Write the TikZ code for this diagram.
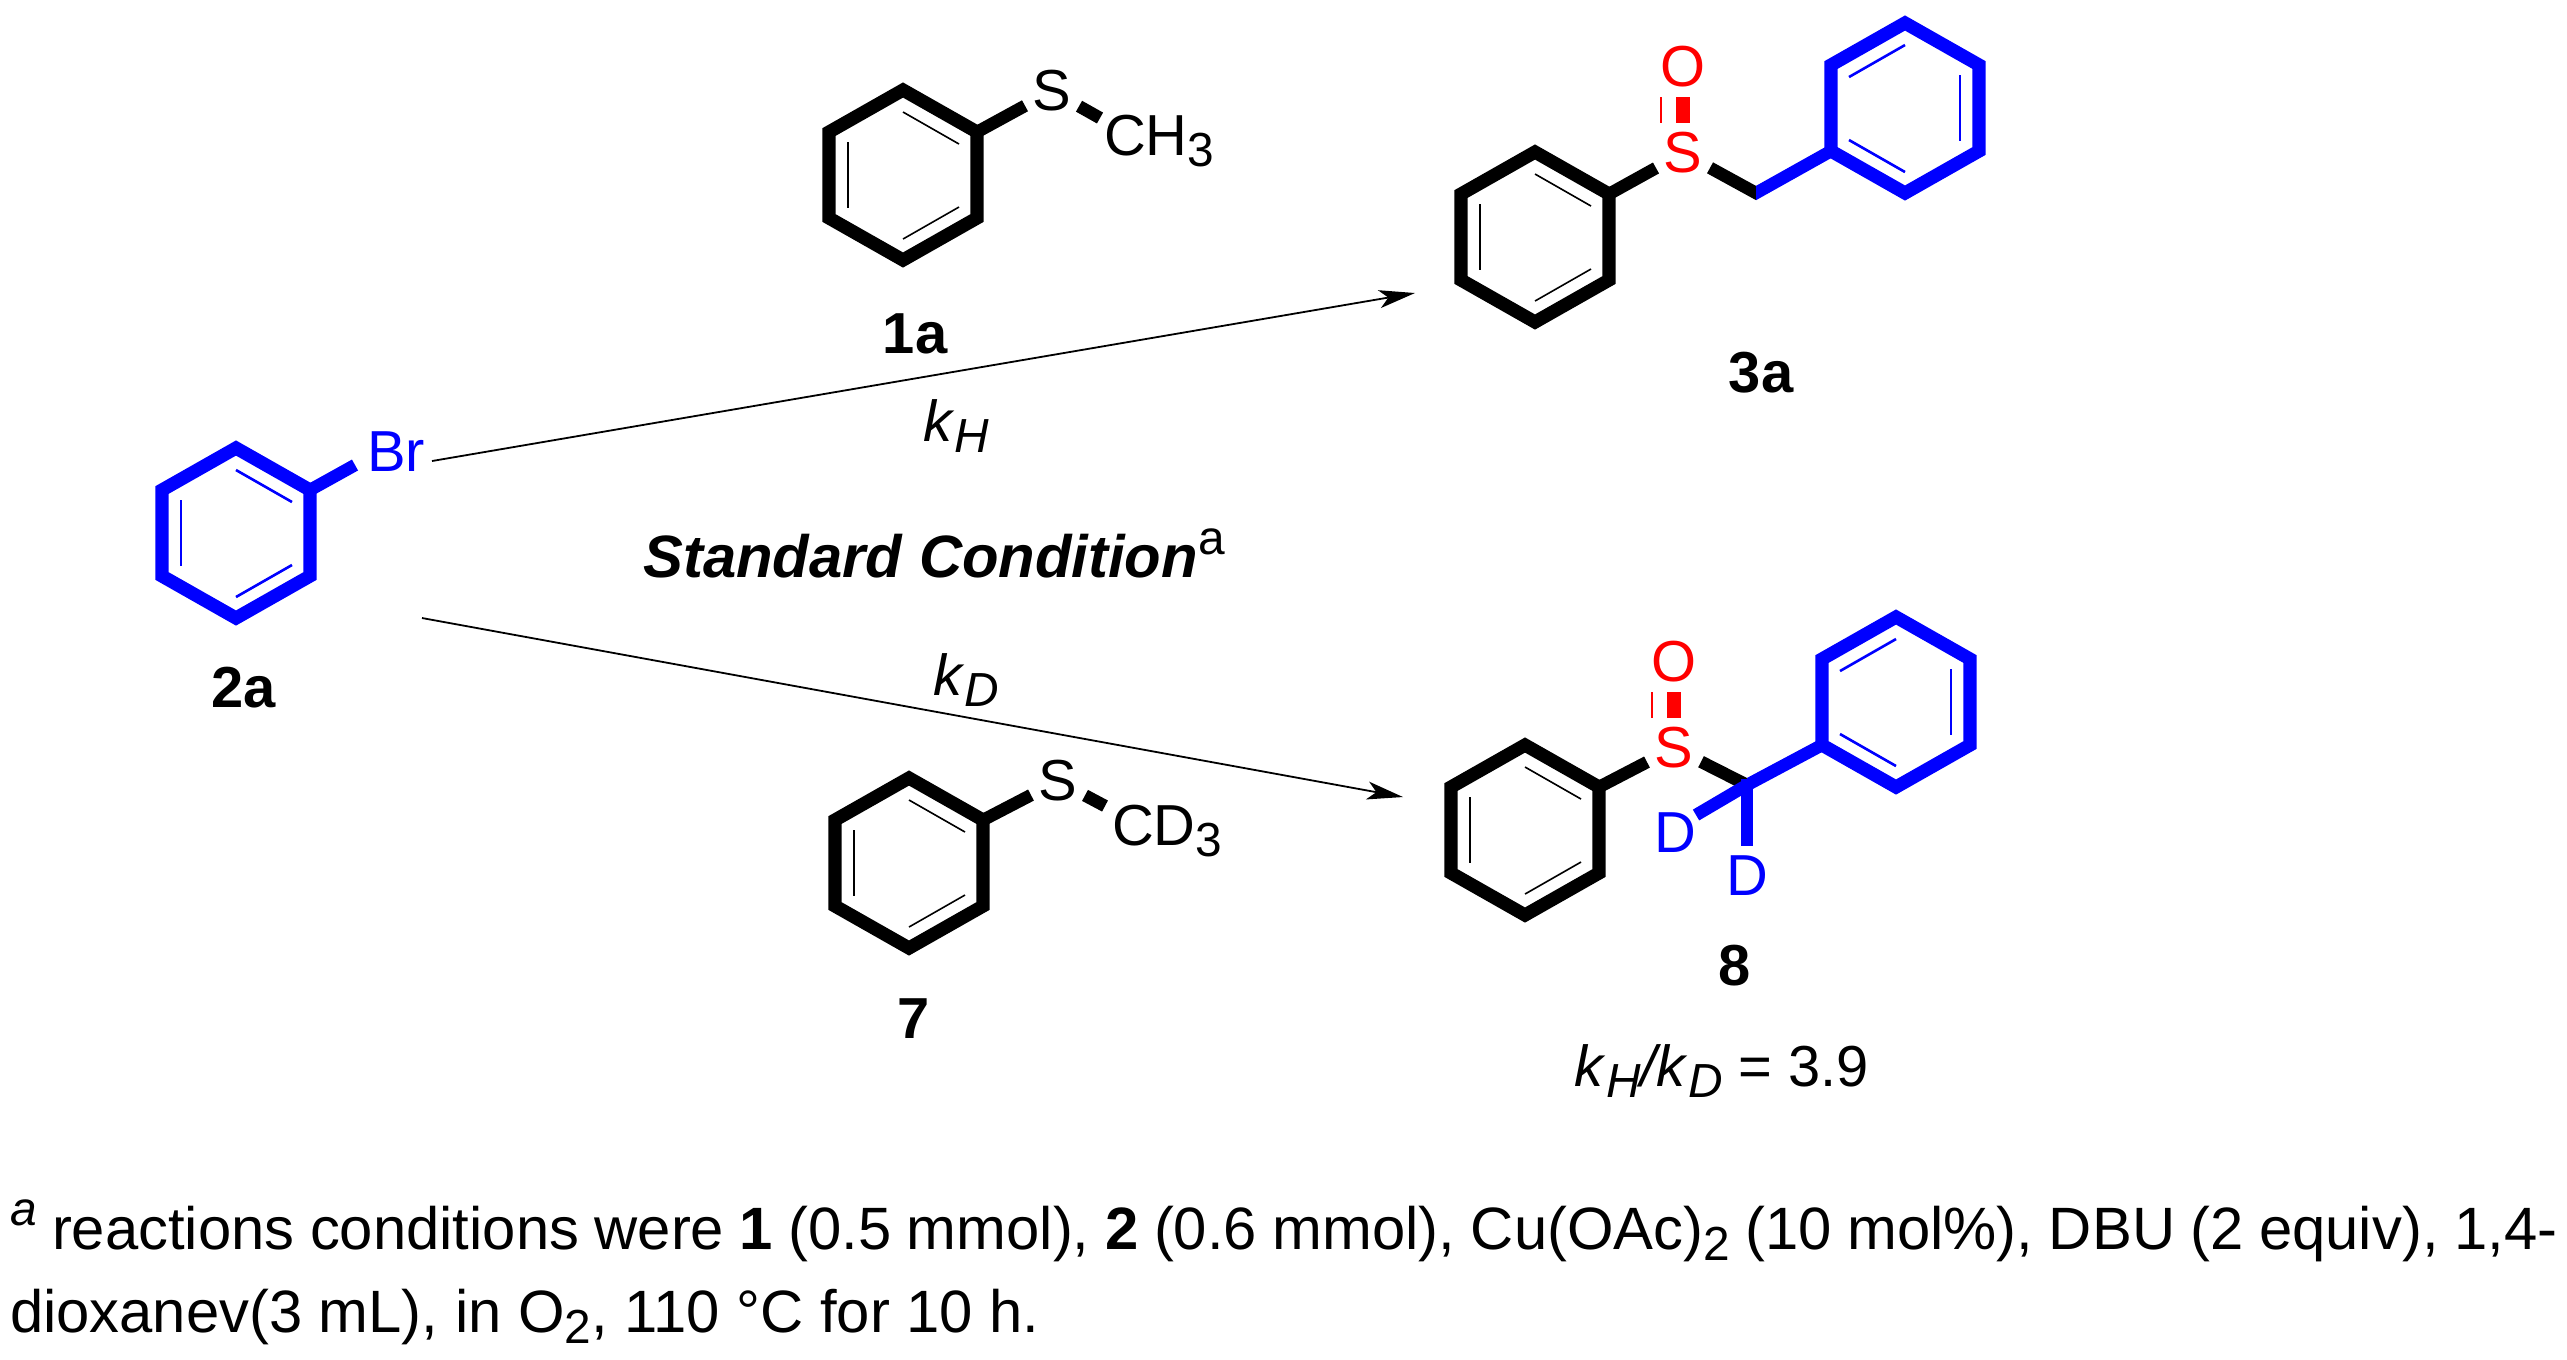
\documentclass[tikz,border=0pt]{standalone}
\usepackage{fontspec}
\setmainfont{Liberation Sans}
\usetikzlibrary{arrows.meta}
\definecolor{pureblue}{RGB}{0,0,255}
\definecolor{purered}{RGB}{255,0,0}
\newcommand\labfont{\fontsize{16.45}{19}\selectfont}
\newcommand\condfont{\fontsize{17}{20}\selectfont}
\newcommand\subfont{\fontsize{13.6}{16}\selectfont}
\newcommand\notefont{\fontsize{17}{20}\selectfont}
\newcommand\subdn[1]{\raisebox{-3.3pt}{\subfont #1}}
\newcommand\benz[5]{%
  \begin{scope}[shift={(#2,#3)},xscale=#5]
    \coordinate (#1-t) at (0,-85);
    \coordinate (#1-tr) at (74,-43);
    \coordinate (#1-br) at (74,43);
    \coordinate (#1-b) at (0,85);
    \coordinate (#1-bl) at (-74,43);
    \coordinate (#1-tl) at (-74,-43);
    \draw[#4ring] (#1-t) -- (#1-tr) -- (#1-br) -- (#1-b) -- (#1-bl) -- (#1-tl) -- cycle;
    \draw[#4inner] (-55,-33) -- (-55,33);
    \draw[#4inner] (0,-63) -- (56,-31);
    \draw[#4inner] (0,64) -- (56,32);
  \end{scope}}
\tikzset{
  ringline/.style={line width=0.132cm,line join=miter,miter limit=4},
  blkring/.style={ringline,draw=black},
  blring/.style={ringline,draw=pureblue},
  blkinner/.style={line width=0.016cm,draw=black},
  blinner/.style={line width=0.026cm,draw=pureblue},
  bondline/.style={line width=0.125cm},
  atomlab/.style={inner sep=0pt,outer sep=0pt,font=\labfont,minimum width=0.54cm,minimum height=0.60cm},
  txt/.style={inner sep=0pt,outer sep=0pt,anchor=base,font=\labfont},
  txtw/.style={inner sep=0pt,outer sep=0pt,anchor=base west,font=\labfont},
  rxn/.style={line width=0.018cm,-{Stealth[length=0.36cm,width=0.18cm,inset=0.09cm]}},
  soboldbar/.style={draw=purered,line width=0.135cm},
  sothin/.style={draw=purered,line width=0.022cm}
}
\begin{document}
\begin{tikzpicture}[x=0.01cm,y=-0.01cm]
\useasboundingbox (0,0) rectangle (2567,1359);
\fill[white] (0,0) rectangle (2567,1359);

% 2a
\benz{bb}{236}{533}{bl}{1}
\coordinate (brend) at (355,465);
\draw[bondline,draw=pureblue] (bb-tr) -- (brend);
\node[txtw,text=pureblue] (Br) at (367,471) {Br};
\node[txt,font=\labfont\bfseries] (l2a) at (244,707) {2a};

% 1a
\benz{ra}{903}{175}{blk}{1}
\node[atomlab] (Sa) at (1052,91) {S};
\coordinate (ma) at (1100,118);
\draw[bondline] (ra-tr) -- (Sa);
\draw[bondline] (Sa) -- (ma);
\node[txtw] (CHt) at (1104,155) {CH\subdn{3}};
\node[txt,font=\labfont\bfseries] (l1a) at (915,353) {1a};

% 7
\benz{rd}{909}{863}{blk}{1}
\node[atomlab] (Sd) at (1058,781) {S};
\coordinate (md) at (1105,806);
\draw[bondline] (rd-tr) -- (Sd);
\draw[bondline] (Sd) -- (md);
\node[txtw] (CDt) at (1112,845) {CD\subdn{3}};
\node[txt,font=\labfont\bfseries] (l7) at (914,1038) {7};

% 3a
\benz{pa}{1535}{237}{blk}{1}
\benz{qa}{1905}{108}{bl}{-1}
\node[atomlab,text=purered] (S3) at (1683,153) {S};
\node[atomlab,text=purered] (O3) at (1683,67) {O};
\coordinate (C3) at (1756,193);
\draw[bondline] (pa-tr) -- (S3);
\begin{scope}
  \clip (1690,120) rectangle (1756,230);
  \draw[bondline,line join=miter] (S3) -- (C3) -- (qa-br);
\end{scope}
\begin{scope}
  \clip (1756,120) rectangle (1840,230);
  \draw[bondline,draw=pureblue,line join=miter] (S3) -- (C3) -- (qa-br);
\end{scope}
\draw[soboldbar] (O3.south) -- (S3.north);
\draw[sothin] ([xshift=-0.22cm]O3.south) -- ([xshift=-0.22cm]S3.north);
\node[txt,font=\labfont\bfseries] (l3a) at (1761,392) {3a};

% 8
\benz{pd}{1525}{830}{blk}{1}
\benz{qd}{1896}{702}{bl}{-1}
\node[atomlab,text=purered] (S8) at (1674,748) {S};
\node[atomlab,text=purered] (O8) at (1674,662) {O};
\coordinate (C8) at (1747,785);
\coordinate (dl) at (1696,815);
\node[atomlab,text=pureblue] (D1) at (1675,833) {D};
\node[atomlab,text=pureblue] (D2) at (1747,876) {D};
\draw[bondline] (pd-tr) -- (S8);
\begin{scope}
  \clip (1680,720) rectangle (1747,820);
  \draw[bondline,line join=miter] (S8) -- (C8) -- (qd-br);
\end{scope}
\begin{scope}
  \clip (1747,720) rectangle (1830,820);
  \draw[bondline,draw=pureblue,line join=miter] (S8) -- (C8) -- (qd-br);
\end{scope}
\draw[bondline,draw=pureblue] (C8) -- (dl);
\draw[bondline,draw=pureblue] ([yshift=0.06cm]C8) -- (D2);
\draw[soboldbar] (O8.south) -- (S8.north);
\draw[sothin] ([xshift=-0.22cm]O8.south) -- ([xshift=-0.22cm]S8.north);
\node[txt,font=\labfont\bfseries] (l8) at (1735,985) {8};
\node[txt] (ratio) at (1722,1086) {\textit{k}\subdn{\textit{H}}\textit{/k}\subdn{\textit{D}} = 3.9};

% arrows
\coordinate (ahs) at (432,461);
\coordinate (ahe) at (1415,293);
\coordinate (ads) at (422,618);
\coordinate (ade) at (1403,797);
\draw[rxn] (ahs) -- (ahe);
\draw[rxn] (ads) -- (ade);
\node[txt] (kh) at (956,441) {\textit{k}\subdn{\textit{H}}};
\node[txt] (kd) at (966,695) {\textit{k}\subdn{\textit{D}}};
\node[txt,font=\condfont] (cond) at (934,577) {\textbf{\textit{Standard Condition}}\raisebox{6.5pt}{\subfont a}};

% footnote
\node[inner sep=0pt,outer sep=0pt,anchor=base west,font=\notefont] (n1) at (10,1249)
  {\makebox[25.46cm][s]{\raisebox{6.8pt}{\subfont\textit{a}} reactions conditions were \textbf{1} (0.5 mmol), \textbf{2} (0.6 mmol), Cu(OAc)\subdn{2} (10 mol\%), DBU (2 equiv), 1,4-}};
\node[inner sep=0pt,outer sep=0pt,anchor=base west,font=\notefont] (n2) at (10,1332)
  {dioxanev(3 mL), in O\subdn{2}, 110 °C for 10 h.};
\end{tikzpicture}
\end{document}
